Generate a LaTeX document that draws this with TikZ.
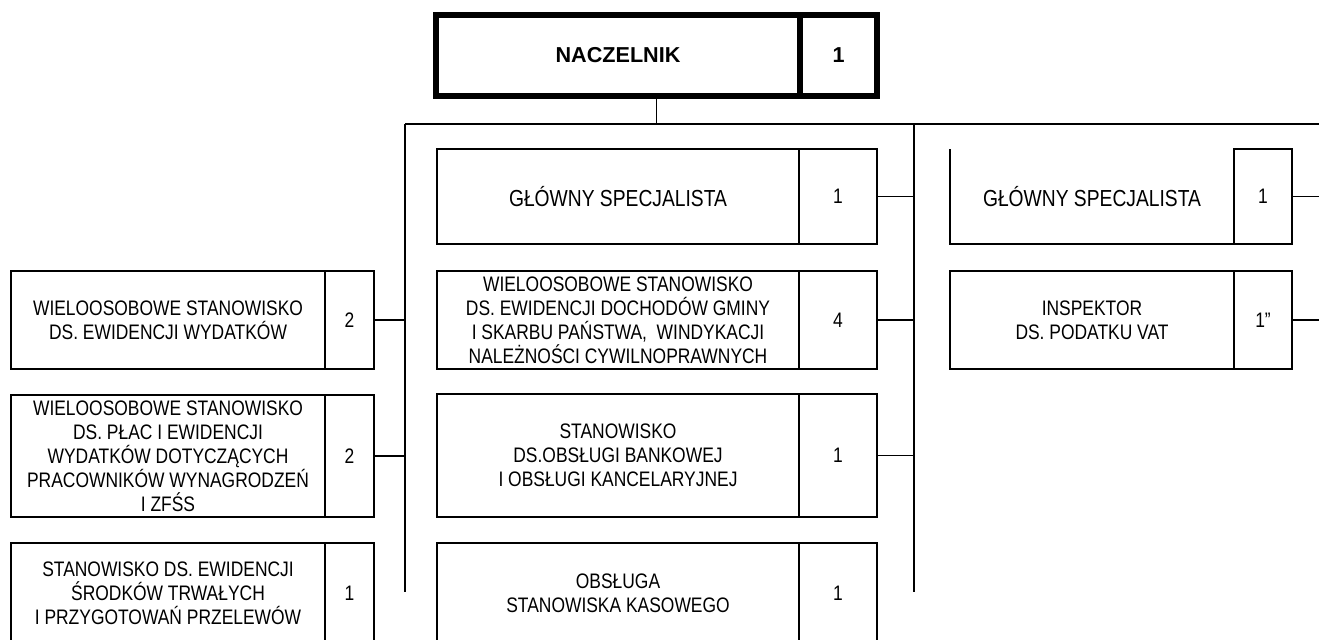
\documentclass[tikz,border=0pt]{standalone}
\usepackage{fontspec}
\setmainfont{Liberation Sans}
\newfontfamily\narrowfont{Liberation Sans}[FakeStretch=0.83]
\usetikzlibrary{calc}
\newcommand\cellnode[7][]{%
  \node[cell,#1,minimum width={(#4-#2)*0.75pt},minimum height={(#5-#3)*0.75pt}] (#6) at (#2,#3) {#7};}
\begin{document}
\begin{tikzpicture}[x=0.75pt,y=-0.75pt,
  cell/.style={draw,line width=0.9pt,inner sep=0pt,outer sep=0pt,anchor=north west,align=center,
    font=\narrowfont\fontsize{15.75}{18}\selectfont},
  bigtext/.style={font=\narrowfont\fontsize{17.4}{20}\selectfont},
  chief/.style={line width=4.2pt,font=\bfseries\fontsize{16.2}{18}\selectfont},
  conn/.style={line width=0.9pt}]
\useasboundingbox (0,0) rectangle (1319,639);
% chief
\cellnode[chief]{436}{15}{800}{96}{nact}{NACZELNIK}
\cellnode[chief]{800}{15}{877}{96}{nacn}{1}
% middle column
\cellnode[bigtext]{437}{149}{799}{244}{m1t}{GŁÓWNY SPECJALISTA}
\cellnode{799}{149}{877}{244}{m1n}{1}
\cellnode{437}{271}{799}{369}{m2t}{WIELOOSOBOWE STANOWISKO\\DS. EWIDENCJI DOCHODÓW GMINY\\I SKARBU PAŃSTWA,\ \ WINDYKACJI\\NALEŻNOŚCI CYWILNOPRAWNYCH}
\cellnode{799}{271}{877}{369}{m2n}{4}
\cellnode{437}{394}{799}{517}{m3t}{STANOWISKO\\DS.OBSŁUGI BANKOWEJ\\I OBSŁUGI KANCELARYJNEJ}
\cellnode{799}{394}{877}{517}{m3n}{1}
\cellnode{437}{543}{799}{644}{m4t}{OBSŁUGA\\STANOWISKA KASOWEGO}
\cellnode{799}{543}{877}{644}{m4n}{1}
% left column
\cellnode{11}{271}{325}{369}{l1t}{WIELOOSOBOWE STANOWISKO\\DS. EWIDENCJI WYDATKÓW}
\cellnode{325}{271}{374}{369}{l1n}{2}
\cellnode{11}{395}{325}{517}{l2t}{WIELOOSOBOWE STANOWISKO\\DS. PŁAC I EWIDENCJI\\WYDATKÓW DOTYCZĄCYCH\\PRACOWNIKÓW WYNAGRODZEŃ\\I ZFŚS}
\cellnode{325}{395}{374}{517}{l2n}{2}
\cellnode{11}{543}{325}{644}{l3t}{STANOWISKO DS. EWIDENCJI\\ŚRODKÓW TRWAŁYCH\\I PRZYGOTOWAŃ PRZELEWÓW}
\cellnode{325}{543}{374}{644}{l3n}{1}
% right column
\cellnode[bigtext,draw=none]{950}{149}{1234}{244}{r1t}{GŁÓWNY SPECJALISTA}
\draw[line width=0.9pt] (r1t.north west) -- (r1t.south west) -- (r1t.south east);
\cellnode{1234}{149}{1292}{244}{r1n}{1}
\cellnode{950}{271}{1234}{369}{r2t}{INSPEKTOR\\DS. PODATKU VAT}
\cellnode{1234}{271}{1292}{369}{r2n}{1”}
% bus
\coordinate (nacmid) at ($(nact.south west)!0.5!(nacn.south east)$);
\coordinate (busL) at (405,124);
\coordinate (busM) at (914,124);
\coordinate (busR) at (1319,124);
\coordinate (endL) at (405,592);
\coordinate (endM) at (914,592);
\draw[conn] (nacmid) -- (nacmid |- busL);
\draw[conn] (busL) -- (busR);
\draw[conn] (busL) -- (endL);
\draw[conn] (busM) -- (endM);
\draw[conn] (l1n.east) -- (l1n.east -| busL);
\draw[conn] (l2n.east) -- (l2n.east -| busL);
\draw[conn] (m1n.east) -- (m1n.east -| busM);
\draw[conn] (m2n.east) -- (m2n.east -| busM);
\draw[conn] (m3n.east) -- (m3n.east -| busM);
\draw[conn] (r1n.east) -- (r1n.east -| busR);
\draw[conn] (r2n.east) -- (r2n.east -| busR);
\end{tikzpicture}
\end{document}
